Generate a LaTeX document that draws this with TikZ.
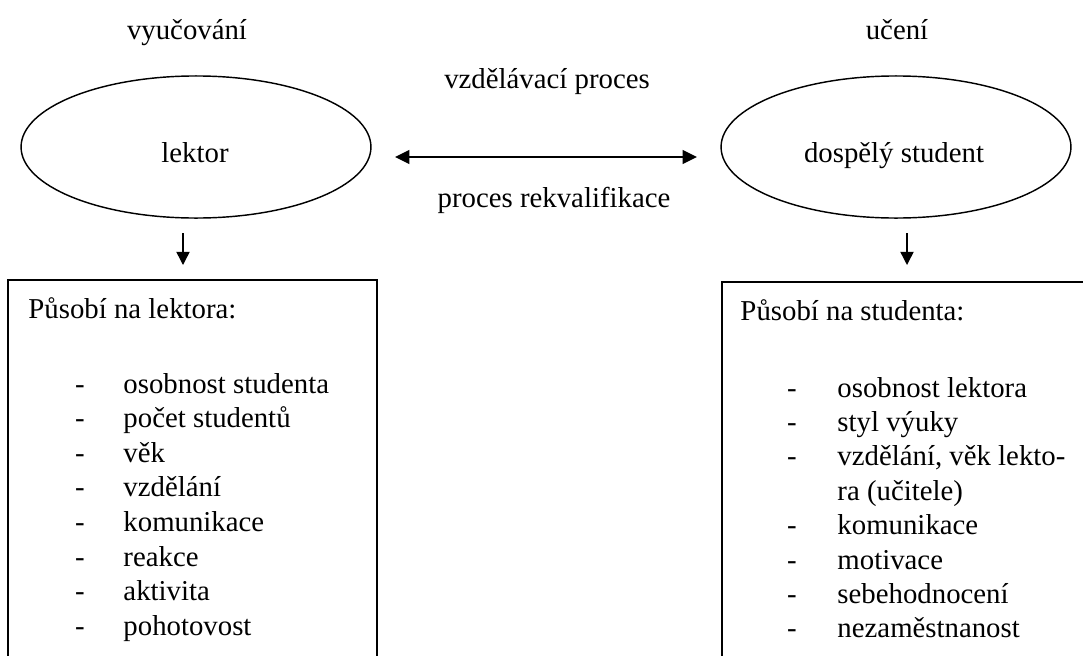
\documentclass[tikz,border=0pt]{standalone}
\usepackage{fontspec}
\setmainfont{Liberation Serif}
\usetikzlibrary{shapes.geometric,arrows.meta}

\tikzset{
  oval/.style={draw, ellipse, line width=0.6pt, minimum width=145.8pt, minimum height=59.2pt, inner sep=0pt},
  panel/.style={draw, line width=0.6pt},
  txt/.style={anchor=base, inner sep=0pt, font=\fontsize{12}{14}\selectfont},
  itemtxt/.style={anchor=base west, inner sep=0pt, font=\fontsize{12}{14}\selectfont},
  tip/.style={-{Triangle[length=5.5pt,width=5.5pt]}, line width=0.6pt},
  tips/.style={{Triangle[length=6pt,width=5.8pt]}-{Triangle[length=6pt,width=5.8pt]}, line width=0.7pt}
}

\begin{document}
\begin{tikzpicture}[x=0.4167pt, y=-0.4167pt]
    \useasboundingbox (0,0) rectangle (1083,655);
    \clip (0,0) rectangle (1083,655);

    % headings
    \node[txt] (vyuc) at (187,39) {vyučování};
    \node[txt] (uceni) at (897,39) {učení};
    \node[txt] (vzdel) at (547,88) {vzdělávací proces};
    \node[txt] (rekv) at (554,207) {proces rekvalifikace};

    % ellipses
    \node[oval] (lektor) at (196,147) {};
    \node[txt] (lektorlbl) at (195,162) {lektor};
    \node[oval] (student) at (896,147) {};
    \node[txt] (studentlbl) at (894,162) {dospělý student};

    \coordinate (mid1) at (395,157);
    \coordinate (mid2) at (697,157);
    \draw[tips] (mid1) -- (mid2);

    % arrows down
    \coordinate (lfrom) at (183,233);
    \coordinate (lto) at (183,265);
    \coordinate (rfrom) at (907,233);
    \coordinate (rto) at (907,265);
    \draw[tip] (lfrom) -- (lto);
    \draw[tip] (rfrom) -- (rto);

    % boxes (cut at the bottom)
    \draw[panel] (8,280) rectangle (377,700);
    \draw[panel] (722,282) rectangle (1100,700);

    \node[itemtxt] (lhead) at (28,318) {Působí na lektora:};
    \node[itemtxt] (rhead) at (740,320) {Působí na studenta:};

    \foreach \t [count=\i from 0] in {osobnost studenta, počet studentů, věk,
        vzdělání, komunikace, reakce, aktivita, pohotovost}{
      \node[txt] (ld\i) at (80,393+34.6*\i) {-};
      \node[itemtxt] (l\i) at (123,393+34.6*\i) {\t};
    }

    \foreach \t [count=\i from 0] in {osobnost lektora, styl výuky,
        {vzdělání, věk lekto-}, ra (učitele), komunikace, motivace,
        sebehodnocení, nezaměstnanost}{
      \node[itemtxt] (r\i) at (837,397+34.4*\i) {\t};
    }
    \foreach \i in {0,1,2,4,5,6,7}{
      \node[txt] (rd\i) at (792,397+34.4*\i) {-};
    }
\end{tikzpicture}
\end{document}
